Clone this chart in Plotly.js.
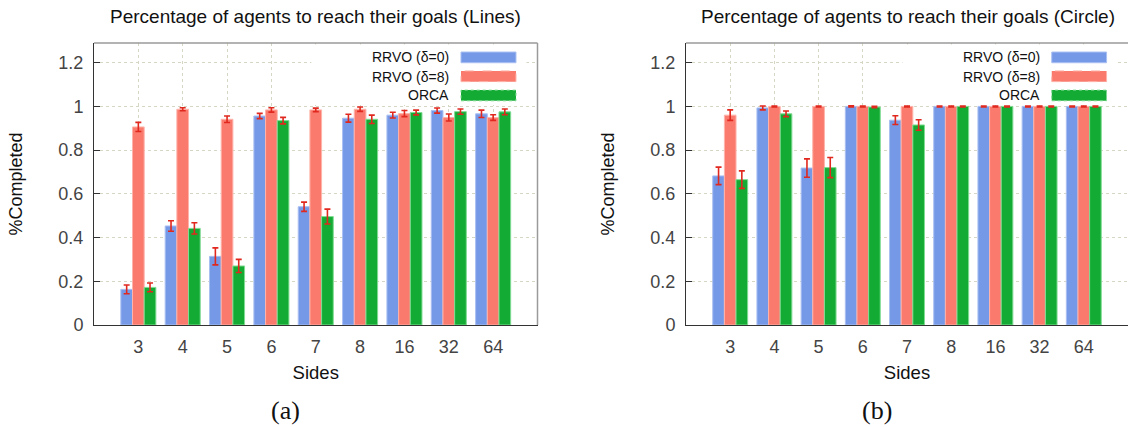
<!DOCTYPE html>
<html><head><meta charset="utf-8">
<script src="https://cdn.plot.ly/plotly-3.0.1.min.js"></script>
<style>html,body{margin:0;padding:0;background:#fff}#chart{width:1128px;height:427px}</style>
</head><body><div id="chart"></div><script>
const categories = ['3','4','5','6','7','8','16','32','64'];
const seriesNames = ['RRVO (δ=0)','RRVO (δ=8)','ORCA'];
const yTickVals = [0,0.2,0.4,0.6,0.8,1,1.2];
const yTickText = ['0','0.2','0.4','0.6','0.8','1','1.2'];

// (a) Lines
const linesRrvo0    = [0.163,0.453,0.314,0.956,0.541,0.946,0.960,0.981,0.966];
const linesRrvo0Err = [0.020,0.024,0.039,0.012,0.021,0.018,0.013,0.012,0.017];
const linesRrvo8    = [0.906,0.987,0.941,0.984,0.984,0.987,0.967,0.949,0.949];
const linesRrvo8Err = [0.021,0.007,0.015,0.010,0.008,0.010,0.014,0.016,0.013];
const linesOrca     = [0.172,0.442,0.270,0.935,0.496,0.941,0.972,0.976,0.975];
const linesOrcaErr  = [0.020,0.026,0.030,0.015,0.034,0.019,0.011,0.012,0.013];

// (b) Circle
const circleRrvo0    = [0.682,0.993,0.718,1.000,0.937,1.000,1.000,1.000,1.000];
const circleRrvo0Err = [0.040,0.009,0.042,0.003,0.020,0.002,0.002,0.002,0.002];
const circleRrvo8    = [0.960,1.000,1.000,1.000,1.000,1.000,1.000,1.000,1.000];
const circleRrvo8Err = [0.024,0.002,0.002,0.002,0.002,0.002,0.002,0.002,0.002];
const circleOrca     = [0.665,0.966,0.720,0.997,0.915,1.000,1.000,1.000,1.000];
const circleOrcaErr  = [0.040,0.013,0.046,0.003,0.024,0.002,0.002,0.002,0.002];

const fills = ['#7599e6','#fa7b6e','#14ab34'];
const edges = ['#a9bff2','#ffb3aa','#7fdc92'];
const errColor = '#e0281e';
const FONT = 'Liberation Sans, Arial, sans-serif';

function bar(y, err, i, xa, ya){
  return {type:'bar', x:categories, y:y, name:seriesNames[i], xaxis:xa, yaxis:ya,
    marker:{color:fills[i], line:{color:edges[i], width:1}},
    error_y:{type:'data', array:err, visible:true, color:errColor, thickness:1.6, width:3},
    showlegend:false, hoverinfo:'x+y'};
}
const data = [
  bar(linesRrvo0, linesRrvo0Err, 0, 'x', 'y'),
  bar(linesRrvo8, linesRrvo8Err, 1, 'x', 'y'),
  bar(linesOrca, linesOrcaErr, 2, 'x', 'y'),
  bar(circleRrvo0, circleRrvo0Err, 0, 'x2', 'y2'),
  bar(circleRrvo8, circleRrvo8Err, 1, 'x2', 'y2'),
  bar(circleOrca, circleOrcaErr, 2, 'x2', 'y2')
];

const yDom = [1-325/427, 1-43/427];
function xAxis(dom, anchor){
  return {domain:dom, anchor:anchor, type:'category', range:[-1,9],
    showline:true, linecolor:'#333', linewidth:1, ticks:'', showgrid:true,
    gridcolor:'#d6d6c4', griddash:'dot', gridwidth:1,
    tickfont:{family:FONT, size:18, color:'#444'}, ticklabelstandoff:5,
    title:{text:'Sides', font:{family:FONT, size:18.5, color:'#111'}, standoff:10},
    fixedrange:true, zeroline:false};
}
function yAxis(anchor){
  return {domain:yDom, anchor:anchor, range:[0,1.29], tickvals:yTickVals, ticktext:yTickText,
    showline:true, linecolor:'#333', linewidth:1, ticks:'inside', ticklen:6, tickcolor:'#333',
    showgrid:true, gridcolor:'#d6d6c4', griddash:'dot', gridwidth:1, zeroline:false,
    tickfont:{family:FONT, size:18, color:'#444'}, ticklabelstandoff:6,
    title:{text:'%Completed', font:{family:FONT, size:18, color:'#111'}, standoff:31},
    fixedrange:true};
}

const shapes = [];
const annotations = [];
[['x','y',true],['x2','y2',false]].forEach(([xa,ya,rightBorder])=>{
  const xr = xa+' domain', yr = ya+' domain';
  // legend background
  shapes.push({type:'rect', xref:xr, yref:yr, x0:0.49, x1:0.975, y0:0.78, y1:0.995, fillcolor:'#ffffff', line:{width:0}, layer:'above'});
  shapes.push({type:'line', xref:xr, yref:yr, x0:0, x1:1, y0:1, y1:1, line:{color:'#9a9a9a', width:1.5}, layer:'above'});
  if (rightBorder) {
    shapes.push({type:'line', xref:xr, yref:yr, x0:1, x1:1, y0:0, y1:1, line:{color:'#9a9a9a', width:1.5}, layer:'above'});
  }
  const rows = [[0.930,0.968,0.949],[0.863,0.901,0.880],[0.795,0.833,0.815]];
  const dashes = ['solid','dash','dot'];
  rows.forEach((r,i)=>{
    shapes.push({type:'rect', xref:xr, yref:yr, x0:0.8275, x1:0.9515, y0:r[0], y1:r[1],
      fillcolor:fills[i], line:{color:edges[i], width:1, dash:dashes[i]}, layer:'above'});
    annotations.push({xref:xr, yref:yr, x:0.8027, y:r[2], xanchor:'right', yanchor:'middle',
      text:seriesNames[i], showarrow:false, borderpad:0, font:{family:FONT, size:14, color:'#111'}});
  });
});
annotations.push({xref:'paper', yref:'paper', x:315.5/1128, y:1-16/427, xanchor:'center', yanchor:'middle',
  text:'Percentage of agents to reach their goals (Lines)', showarrow:false, font:{family:FONT, size:19, color:'#111'}});
annotations.push({xref:'paper', yref:'paper', x:907.8/1128, y:1-16/427, xanchor:'center', yanchor:'middle',
  text:'Percentage of agents to reach their goals (Circle)', showarrow:false, font:{family:FONT, size:19, color:'#111'}});
annotations.push({xref:'paper', yref:'paper', x:285/1128, y:1-410/427, xanchor:'center', yanchor:'middle',
  text:'(a)', showarrow:false, font:{family:'Liberation Serif, DejaVu Serif, serif', size:26, color:'#111'}});
annotations.push({xref:'paper', yref:'paper', x:877/1128, y:1-410/427, xanchor:'center', yanchor:'middle',
  text:'(b)', showarrow:false, font:{family:'Liberation Serif, DejaVu Serif, serif', size:26, color:'#111'}});

const layout = {
  width:1128, height:427, margin:{l:0,r:0,t:0,b:0}, paper_bgcolor:'#fff', plot_bgcolor:'#fff',
  barmode:'group', bargap:0.21, bargroupgap:0,
  xaxis: xAxis([94/1128, 537.5/1128], 'y'),
  yaxis: yAxis('x'),
  xaxis2: xAxis([686/1128, 1], 'y2'),
  yaxis2: yAxis('x2'),
  shapes: shapes, annotations: annotations, showlegend:false
};
Plotly.newPlot('chart', data, layout, {displayModeBar:false, staticPlot:true});
</script></body></html>
